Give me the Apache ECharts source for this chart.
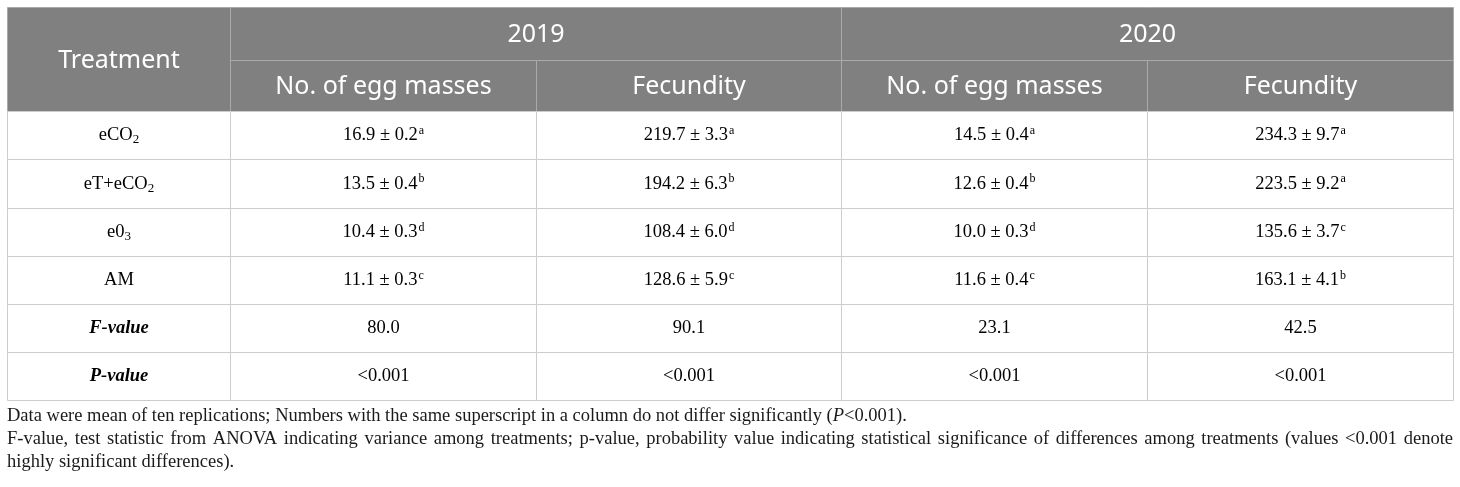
<!DOCTYPE html>
<html>
<head>
<meta charset="utf-8">
<title>Egg masses and fecundity</title>
<script src="https://cdn.jsdelivr.net/npm/echarts@6/dist/echarts.min.js"></script>
<style>
  html, body { margin: 0; padding: 0; background: #fff; }
  #chart { width: 1460px; height: 487px; }
</style>
</head>
<body>
<div id="chart"></div>
<script>
// table data
const years = ['2019', '2020'];
const measures = ['No. of egg masses', 'Fecundity'];
const treatments = ['eCO2', 'eT+eCO2', 'e03', 'AM'];

const eggMean2019 = [16.9, 13.5, 10.4, 11.1];
const eggSe2019 = [0.2, 0.4, 0.3, 0.3];
const eggSig2019 = ['a', 'b', 'd', 'c'];
const fecMean2019 = [219.7, 194.2, 108.4, 128.6];
const fecSe2019 = [3.3, 6.3, 6.0, 5.9];
const fecSig2019 = ['a', 'b', 'd', 'c'];

const eggMean2020 = [14.5, 12.6, 10.0, 11.6];
const eggSe2020 = [0.4, 0.4, 0.3, 0.4];
const eggSig2020 = ['a', 'b', 'd', 'c'];
const fecMean2020 = [234.3, 223.5, 135.6, 163.1];
const fecSe2020 = [9.7, 9.2, 3.7, 4.1];
const fecSig2020 = ['a', 'a', 'c', 'b'];

const fValues = [80.0, 90.1, 23.1, 42.5];
const pValues = ['<0.001', '<0.001', '<0.001', '<0.001'];

const note1 = 'Data were mean of ten replications; Numbers with the same superscript in a column do not differ significantly (';
const note1End = '<0.001).';
const note2 = 'F-value, test statistic from ANOVA indicating variance among treatments; p-value, probability value indicating statistical significance of differences among treatments (values <0.001 denote';
const note3 = 'highly significant differences).';

// layout (pixels of the table, not data)
const colWidths = [223, 306, 305, 306, 306];
const rowHeights = [53, 51, 48, 48.5, 48, 48.5, 48, 48];
const totalW = colWidths.reduce((a, b) => a + b, 0);
const totalH = rowHeights.reduce((a, b) => a + b, 0);
const colX = [0];
colWidths.forEach(w => colX.push(colX[colX.length - 1] + w));
const rowY = [0];
rowHeights.forEach(h => rowY.push(rowY[rowY.length - 1] + h));

const HEAD_BG = '#7f807f';
const HEAD_LINE = '#a9aaa9';
const BODY_LINE = '#cccccc';
const INK = '#1a1a1a';
const serif = 'Liberation Serif';
const NOTE_SIZE = 18.5;

function cell(c0, c1, r0, r1, kind, text) {
  return [colX[c0], colX[c1], rowY[r0], rowY[r1], kind, text];
}
function valueText(m, s, sig) {
  return '{n|' + m.toFixed(1) + ' ± ' + s.toFixed(1) + '}{sup|' + sig + '}';
}
function treatText(t) {
  const m = t.match(/^(.*?)(\d)$/);
  return m ? '{n|' + m[1] + '}{sub|' + m[2] + '}' : '{n|' + t + '}';
}

const cells = [];
cells.push(cell(0, 1, 0, 2, 'head', 'Treatment'));
years.forEach((y, i) => {
  cells.push(cell(1 + i * 2, 3 + i * 2, 0, 1, 'head', y));
  measures.forEach((m, j) => {
    cells.push(cell(1 + i * 2 + j, 2 + i * 2 + j, 1, 2, 'head', m));
  });
});
const columns = [
  [eggMean2019, eggSe2019, eggSig2019],
  [fecMean2019, fecSe2019, fecSig2019],
  [eggMean2020, eggSe2020, eggSig2020],
  [fecMean2020, fecSe2020, fecSig2020]
];
treatments.forEach((t, r) => {
  cells.push(cell(0, 1, 2 + r, 3 + r, 'body', treatText(t)));
  columns.forEach((col, c) => {
    cells.push(cell(1 + c, 2 + c, 2 + r, 3 + r, 'body', valueText(col[0][r], col[1][r], col[2][r])));
  });
});
const fRow = 2 + treatments.length;
cells.push(cell(0, 1, fRow, fRow + 1, 'body', '{bi|F-value}'));
fValues.forEach((v, c) => cells.push(cell(1 + c, 2 + c, fRow, fRow + 1, 'body', '{n|' + v.toFixed(1) + '}')));
cells.push(cell(0, 1, fRow + 1, fRow + 2, 'body', '{bi|P-value}'));
pValues.forEach((v, c) => cells.push(cell(1 + c, 2 + c, fRow + 1, fRow + 2, 'body', '{n|' + v + '}')));

const bodyRich = {
  n: { fontFamily: serif, fontSize: 18.5, lineHeight: 24, color: INK },
  bi: { fontFamily: serif, fontSize: 18.5, lineHeight: 24, color: INK, fontStyle: 'italic', fontWeight: 'bold' },
  sup: { fontFamily: serif, fontSize: 12, lineHeight: 12, verticalAlign: 'top', color: INK, padding: [1, 0, 0, 1] },
  sub: { fontFamily: serif, fontSize: 13, lineHeight: 13, verticalAlign: 'bottom', color: INK, padding: [0, 0, 1, 0] }
};

// spread the long footnote line over the table width, as in the source
function justified(line) {
  const ctx = document.createElement('canvas').getContext('2d');
  ctx.font = NOTE_SIZE + 'px "' + serif + '"';
  const words = line.split(' ');
  const used = words.reduce((s, w) => s + ctx.measureText(w).width, 0);
  const gap = Math.max(3, (totalW - used) / (words.length - 1));
  return { text: words.map(w => '{t|' + w + '}').join('{sp| }'), gap: gap };
}
const j2 = justified(note2);

const chart = echarts.init(document.getElementById('chart'));
chart.setOption({
  animation: false,
  grid: { left: 7, top: 7, width: totalW, height: totalH },
  xAxis: { type: 'value', min: 0, max: totalW, show: false },
  yAxis: { type: 'value', min: 0, max: totalH, inverse: true, show: false },
  series: [{
    type: 'custom',
    coordinateSystem: 'cartesian2d',
    dimensions: ['x0', 'x1', 'y0', 'y1', 'kind', 'text'],
    encode: { x: [0, 1], y: [2, 3] },
    data: cells,
    renderItem: function (params, api) {
      const d = cells[params.dataIndex];
      const a = api.coord([api.value(0), api.value(2)]);
      const b = api.coord([api.value(1), api.value(3)]);
      const x = Math.round(a[0]) + 0.5, y = Math.round(a[1]) + 0.5;
      const w = Math.round(b[0]) - Math.round(a[0]);
      const h = Math.round(b[1]) - Math.round(a[1]);
      const head = d[4] === 'head';
      return {
        type: 'group',
        children: [{
          type: 'rect',
          shape: { x: x, y: y, width: w, height: h },
          style: { fill: head ? HEAD_BG : '#fff', stroke: head ? HEAD_LINE : BODY_LINE, lineWidth: 1 }
        }, {
          type: 'text',
          style: head ? {
            x: x + w / 2, y: y + h / 2 + 1,
            text: d[5], align: 'center', verticalAlign: 'middle',
            fill: '#ffffff', fontFamily: 'Noto Sans', fontSize: 25
          } : {
            x: x + w / 2, y: y + h / 2,
            text: d[5], align: 'center', verticalAlign: 'middle',
            rich: bodyRich
          }
        }]
      };
    }
  }],
  graphic: [{
    type: 'text',
    left: 7,
    top: 407,
    style: {
      text: '{t|' + note1 + '}{i|P}{t|' + note1End + '}\n' + j2.text + '\n{t|' + note3 + '}',
      rich: {
        t: { fontFamily: serif, fontSize: NOTE_SIZE, lineHeight: 23, fill: INK },
        i: { fontFamily: serif, fontSize: NOTE_SIZE, lineHeight: 23, fill: INK, fontStyle: 'italic' },
        sp: { fontFamily: serif, fontSize: NOTE_SIZE, lineHeight: 23, width: j2.gap }
      }
    }
  }]
});
</script>
</body>
</html>
